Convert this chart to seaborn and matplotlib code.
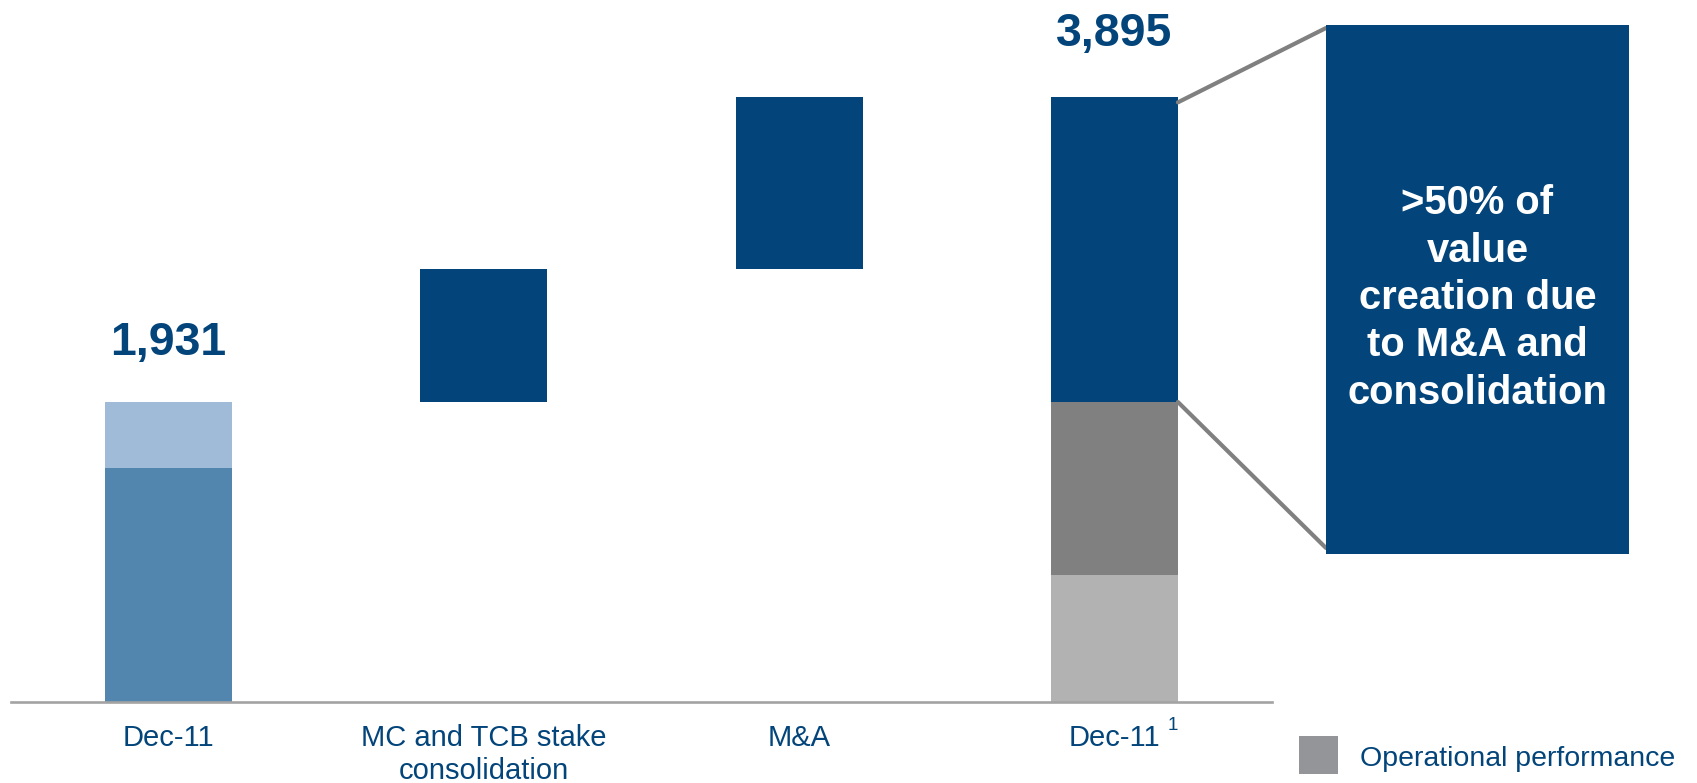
import matplotlib
matplotlib.use("Agg")
import matplotlib.pyplot as plt
from matplotlib.patches import Rectangle, ConnectionPatch
import seaborn as sns
import pandas as pd

# ---- data -------------------------------------------------------------
stages = ["start", "consolidation", "ma", "end"]
tick_labels = ["Dec-11", "MC and TCB stake\nconsolidation", "M&A", "Dec-11"]

# opening value split into two parts
start_lower = 1506
start_upper = 425
# increments
consolidation_step = 855
ma_step = 1109
# closing value split
end_base = 815          # light grey
end_operational = 1116  # operational performance (dark grey)

start_total = start_lower + start_upper
end_total = start_total + consolidation_step + ma_step

callout_text = ">50% of\nvalue\ncreation due\nto M&A and\nconsolidation"
legend_label = "Operational performance"

# ---- styling ------------------------------------------------------------
BLUE = "#03457A"
MID_BLUE = "#5386AE"
LIGHT_BLUE = "#A0BBD8"
DARK_GREY = "#808080"
LIGHT_GREY = "#B2B2B2"
LEGEND_GREY = "#939598"

sns.set_theme(style="white")
plt.rcParams["font.family"] = ["Liberation Sans", "DejaVu Sans"]

W, H = 1697, 783
fig = plt.figure(figsize=(W / 100, H / 100), dpi=100)
ax = fig.add_axes([11 / W, (H - 701.5) / H, (1272 - 11) / W, 701.5 / H])

segments = pd.DataFrame({
    "stage": ["start", "start", "consolidation", "ma", "end", "end", "end"],
    "value": [start_lower, start_upper, consolidation_step, ma_step,
              end_base, end_operational, consolidation_step + ma_step],
    "base": [0, start_lower, start_total, start_total + consolidation_step,
             0, end_base, start_total],
    "color": [MID_BLUE, LIGHT_BLUE, BLUE, BLUE, LIGHT_GREY, DARK_GREY, BLUE],
})

BAR_W = 0.403
for _, seg in segments.iterrows():
    sns.barplot(x=[seg["stage"]], y=[seg["value"]], order=stages,
                bottom=seg["base"], color=seg["color"], saturation=1,
                width=BAR_W, errorbar=None, linewidth=0, ax=ax)

ax.set_xlim(-0.5, 3.5)
ax.set_ylim(0, 701.5 / 0.1551)
for side in ["top", "right", "left"]:
    ax.spines[side].set_visible(False)
ax.spines["bottom"].set_color("#A3A3A3")
ax.spines["bottom"].set_linewidth(1.9)
ax.set_yticks([])
ax.set_xticks(range(len(stages)))
ax.set_xticklabels(tick_labels, fontsize=21, color=BLUE, linespacing=1.22)
ax.tick_params(axis="x", length=0, pad=16.5)
ax.set_xlabel("")
ax.set_ylabel("")

# superscript footnote marker on the last category
ax.annotate("1", xy=(3, 0), xytext=(53, -15), textcoords="offset pixels",
            ha="left", va="top", fontsize=13.5, color=BLUE, annotation_clip=False)

# totals above the opening and closing bars
for pos, total, off in [(0, start_total, 47), (3, end_total, 51)]:
    ax.annotate(f"{total:,}", xy=(pos, total), xytext=(0, off),
                textcoords="offset pixels", ha="center", va="baseline",
                fontsize=33.5, fontweight="bold", color=BLUE,
                annotation_clip=False)

# call-out box
bx0, bx1, by0, by1 = 1326, 1629, 25, 554
fig.patches.append(Rectangle((bx0 / W, 1 - by1 / H), (bx1 - bx0) / W,
                             (by1 - by0) / H, transform=fig.transFigure,
                             facecolor=BLUE, edgecolor="none", zorder=3))
fig.text((bx0 + bx1) / 2 / W, 1 - 298 / H, callout_text, ha="center",
         va="center", multialignment="center", fontsize=28.8,
         fontweight="bold", color="white", linespacing=1.31, zorder=4)

# connector lines from the closing bar to the call-out
bar_right = 3 + BAR_W / 2
for y_data, y_px in [(end_total - 32, 28), (start_total, 548)]:
    con = ConnectionPatch(xyA=(bar_right, y_data), coordsA=ax.transData,
                          xyB=(bx0 / W, 1 - y_px / H), coordsB=fig.transFigure,
                          color=DARK_GREY, linewidth=3.0, zorder=2)
    fig.add_artist(con)

# legend entry
fig.patches.append(Rectangle((1299 / W, 1 - 774 / H), 39 / W, 38 / H,
                             transform=fig.transFigure, facecolor=LEGEND_GREY,
                             edgecolor="none"))
fig.text(1360 / W, 1 - 766.5 / H, legend_label, ha="left", va="baseline",
         fontsize=20.5, color=BLUE)

fig.savefig("out.png", dpi=100, facecolor="white")
